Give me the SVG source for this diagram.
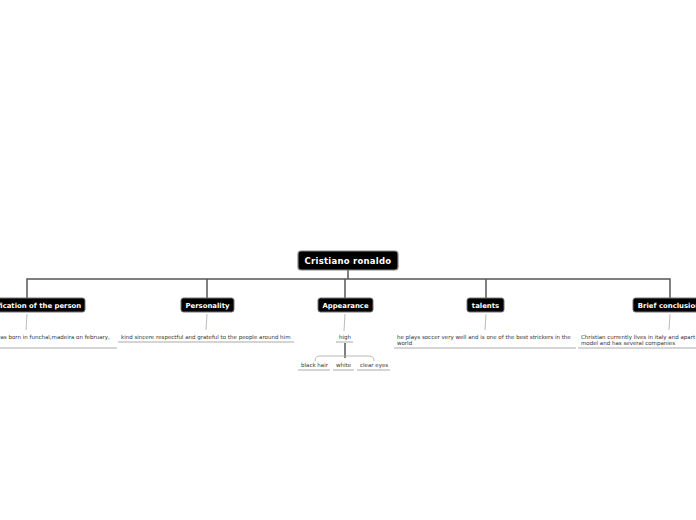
<svg xmlns="http://www.w3.org/2000/svg" width="696" height="520" viewBox="0 0 696 520">
<style>
.bg{fill:#fff}
.main rect{fill:#000;stroke:#777;stroke-width:1}
.main text{fill:#fff;font-family:"DejaVu Sans",Verdana,sans-serif;font-weight:bold;font-size:6.9px;text-anchor:middle}
.root rect{fill:#000;stroke:#888;stroke-width:1.2}
.root text{fill:#fff;font-family:"DejaVu Sans",Verdana,sans-serif;font-weight:bold;font-size:8.5px;letter-spacing:0.25px;text-anchor:middle}
.leaf text{fill:#333;font-family:"DejaVu Sans",Verdana,sans-serif;font-size:5.5px}
.leaf line{stroke:#aaa;stroke-width:1}
.c{fill:none;stroke:#555;stroke-width:1.5}
.t{fill:none;stroke:#aaa;stroke-width:0.8}
</style>
<rect class="bg" width="696" height="520"/>
<g id="connectors">
<path class="c" d="M348,270V279M27,298V279H670V298M207,279V298M345,279V298M486,279V298"/>
<path class="t" d="M27,314L26,330M207,314L206,330M345,314L344,331M486,314L485,330M670,314L669,330"/>
<path class="c" d="M345,343V358" stroke-width="1.2"/>
<path class="t" d="M315,361Q315,356 320,356H369Q374,356 374,361"/>
</g>
<g id="root" class="root">
<rect x="298" y="251" width="100" height="19" rx="3"/>
<text x="348" y="264">Cristiano ronaldo</text>
</g>
<g id="n1" class="main">
<rect x="-31" y="298" width="116" height="14" rx="2.5"/>
<text x="28" y="307.5">Identification of the person</text>
</g>
<g id="n2" class="main">
<rect x="181" y="298" width="53" height="14" rx="2.5"/>
<text x="207.5" y="307.5">Personality</text>
</g>
<g id="n3" class="main">
<rect x="318" y="298" width="55" height="14" rx="2.5"/>
<text x="345.5" y="307.5">Appearance</text>
</g>
<g id="n4" class="main">
<rect x="467" y="298" width="37" height="14" rx="2.5"/>
<text x="485.5" y="307.5">talents</text>
</g>
<g id="n5" class="main">
<rect x="633" y="298" width="76" height="14" rx="2.5"/>
<text x="669" y="307.5">Brief conclusion</text>
</g>
<g id="l1" class="leaf">
<text x="-4" y="339">was born in funchal,madeira on february,</text>
<line x1="0" y1="348" x2="117" y2="348"/>
</g>
<g id="l2" class="leaf">
<text x="121" y="339">kind sincere respectful and grateful to the people around him</text>
<line x1="118" y1="342" x2="294" y2="342"/>
</g>
<g id="l3" class="leaf">
<text x="339" y="339">high</text>
<line x1="336" y1="342" x2="353" y2="342"/>
</g>
<g id="l4" class="leaf">
<text x="397" y="339">he plays soccer very well and is one of the best strickers in the</text>
<text x="397" y="345">world</text>
<line x1="394" y1="348" x2="576" y2="348"/>
</g>
<g id="l5" class="leaf">
<text x="581" y="339">Christian currently lives in italy and apart from being a</text>
<text x="581" y="345">model and has several companies</text>
<line x1="578" y1="348" x2="696" y2="348"/>
</g>
<g id="a1" class="leaf">
<text x="301" y="367">black hair</text>
<line x1="298" y1="370" x2="330" y2="370"/>
</g>
<g id="a2" class="leaf">
<text x="336" y="367">white</text>
<line x1="333" y1="370" x2="354" y2="370"/>
</g>
<g id="a3" class="leaf">
<text x="360" y="367">clear eyes</text>
<line x1="357" y1="370" x2="390" y2="370"/>
</g>
</svg>
